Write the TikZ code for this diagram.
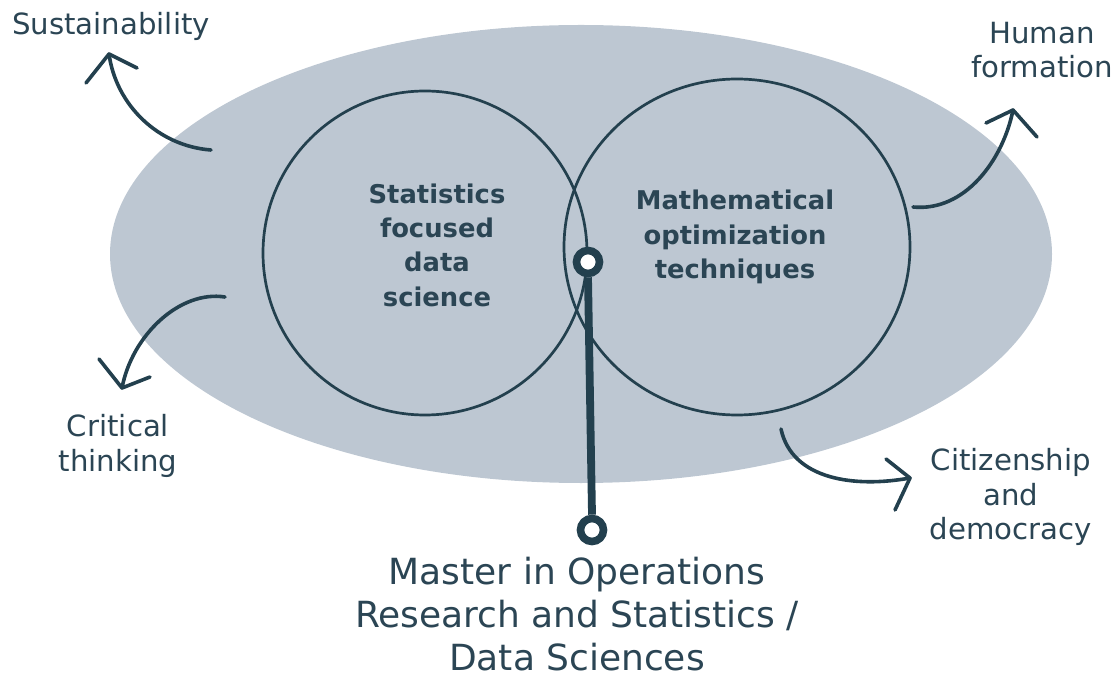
\documentclass[tikz,border=0pt]{standalone}
\usepackage{fontspec}
\setmainfont{DejaVu Sans}
\definecolor{ellfill}{HTML}{BDC7D2}
\definecolor{dark}{HTML}{23404E}
\definecolor{txt}{HTML}{2B4554}
\tikzset{
  circ/.style={draw=dark, line width=1.35pt},
  curvearrow/.style={draw=dark, line width=1.8pt, line cap=round, line join=round},
  ring/.style={circle, draw=dark, fill=white, line width=3.8pt, minimum size=11.5pt, inner sep=0pt},
  stem/.style={draw=dark, line width=3.9pt},
  boldtxt/.style={text=txt, align=center, inner sep=0pt, font=\bfseries\fontsize{12.9}{17.2}\selectfont},
  lbl/.style={text=txt, align=center, inner sep=0pt, font=\fontsize{14.6}{17.1}\selectfont},
  bigtxt/.style={text=txt, align=center, inner sep=0pt, font=\fontsize{18}{21.5}\selectfont}
}
\begin{document}
\begin{tikzpicture}[x=0.5pt,y=-0.5pt]
\useasboundingbox (0,0) rectangle (1118,678);
% big ellipse
\fill[ellfill] (581,254) ellipse [x radius=235.5pt, y radius=114.5pt];
% two circles
\draw[circ] (425,253) circle [radius=81pt];
\draw[circ] (737,247) ellipse [x radius=86.5pt, y radius=84pt];
% circle texts
\node[boldtxt] (stat) at (437,245) {Statistics\\focused\\data\\science};
\node[boldtxt] (math) at (735,237) {Mathematical\\optimization\\techniques};
% pin
\node[ring] (pintop) at (588,262) {};
\node[ring] (pinbot) at (592,530) {};
\draw[stem] (pintop.south) -- (pinbot.north);
% labels
\node[lbl] (sust) at (111,26) {Sustainability};
\node[lbl] (human) at (1042,50) {Human\\formation};
\node[lbl] (crit) at (118,446) {Critical\\thinking};
\node[lbl] (citi) at (1011,497) {Citizenship\\and\\democracy};
\node[bigtxt] (master) at (577,614) {Master in Operations\\Research and Statistics /\\Data Sciences};
% curved arrows
\coordinate (s0) at (211,150); \coordinate (s1) at (109,54);
\draw[curvearrow] (s0) .. controls (158,146) and (116,105) .. (s1);
\draw[curvearrow] (86,83) -- (s1) -- (137,68);
\coordinate (h0) at (913,207); \coordinate (h1) at (1013,110);
\draw[curvearrow] (h0) .. controls (965,212) and (1003,160) .. (h1);
\draw[curvearrow] (986,123) -- (h1) -- (1037,137);
\coordinate (c0) at (225,297); \coordinate (c1) at (122,388);
\draw[curvearrow] (c0) .. controls (180,290) and (132,335) .. (c1);
\draw[curvearrow] (99,359) -- (c1) -- (150,377);
\coordinate (z0) at (781,429); \coordinate (z1) at (910,478);
\draw[curvearrow] (z0) .. controls (792,480) and (855,488) .. (z1);
\draw[curvearrow] (886,459) -- (z1) -- (895,510);
\end{tikzpicture}
\end{document}
